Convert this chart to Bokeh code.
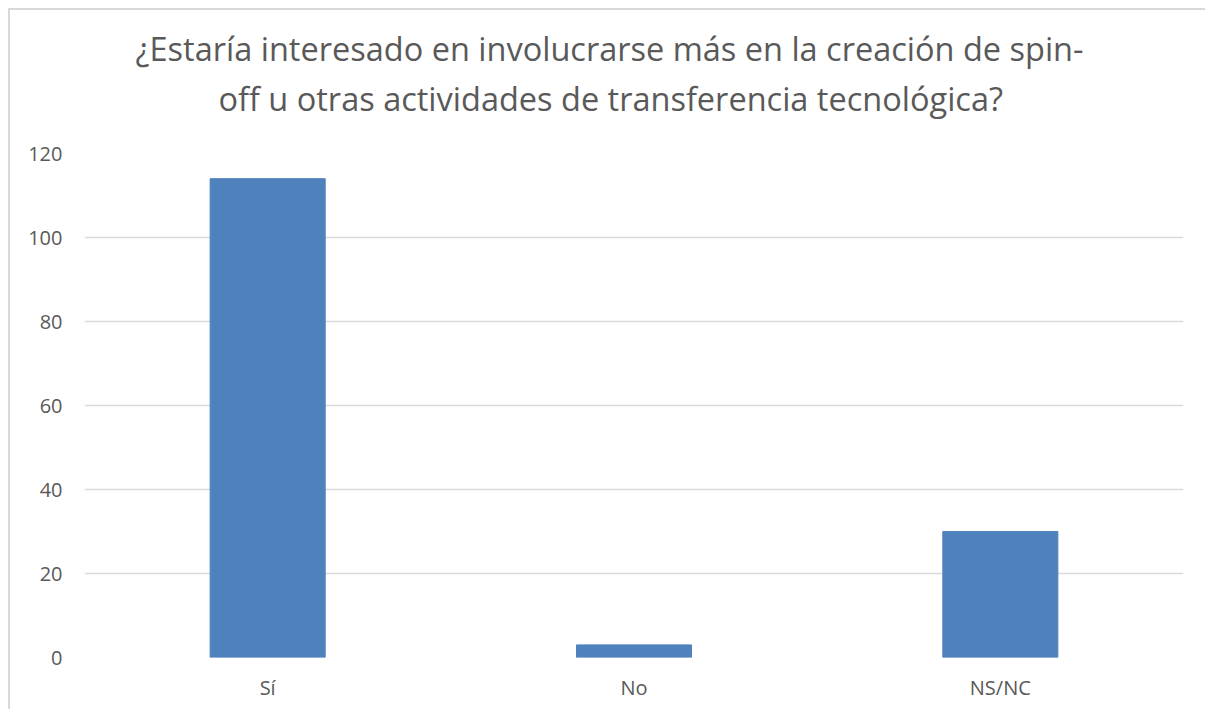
from bokeh.plotting import figure
from bokeh.models import FactorRange, Range1d, FixedTicker, Title
from bokeh.embed import file_html
from bokeh.resources import INLINE

categories = ["Sí", "No", "NS/NC"]
values = [114, 3, 30]
y_ticks = [0, 20, 40, 60, 80, 100, 120]
title_lines = ["¿Estaría interesado en involucrarse más en la creación de spin-",
               "off u otras actividades de transferencia tecnológica?"]

FONT = "Open Sans"
TXT = "#595959"
GRID = "#d9d9d9"

p = figure(x_range=FactorRange(*categories, range_padding=0), y_range=Range1d(0, 120),
           width=1197, height=701, output_backend="svg", toolbar_location=None,
           min_border_left=74, min_border_right=24, min_border_top=143, min_border_bottom=54)
p.title = None

standoffs = [-60, 66]
offsets = [51, 134]
for line, so, off in zip(reversed(title_lines), reversed(standoffs), reversed(offsets)):
    t = Title(text=line, align="left", text_font=FONT, text_font_size="32.5px",
              text_color=TXT, text_font_style="normal", standoff=so, offset=off)
    p.add_layout(t, "above")

p.vbar(x=categories, top=values, width=0.314, fill_color="#4f81bd", line_color="#4f81bd", line_width=1)

p.outline_line_color = None
p.xgrid.grid_line_color = None
p.ygrid.grid_line_color = GRID
p.ygrid.grid_line_width = 1.5
p.yaxis.ticker = FixedTicker(ticks=y_ticks)
for ax in (p.xaxis[0], p.yaxis[0]):
    ax.axis_line_color = None
    ax.major_tick_line_color = None
    ax.minor_tick_line_color = None
    ax.major_tick_out = 0
    ax.major_tick_in = 0
    ax.major_label_text_font = FONT
    ax.major_label_text_font_size = "20px"
    ax.major_label_text_color = TXT
p.yaxis.major_label_standoff = 22
p.xaxis.major_label_standoff = 16
p.styles = {"margin-left": "8px", "margin-top": "8px",
            "border-top": "2px solid #d9d9d9", "border-left": "2px solid #d9d9d9"}

open("out.html", "w").write(file_html(p, INLINE))
